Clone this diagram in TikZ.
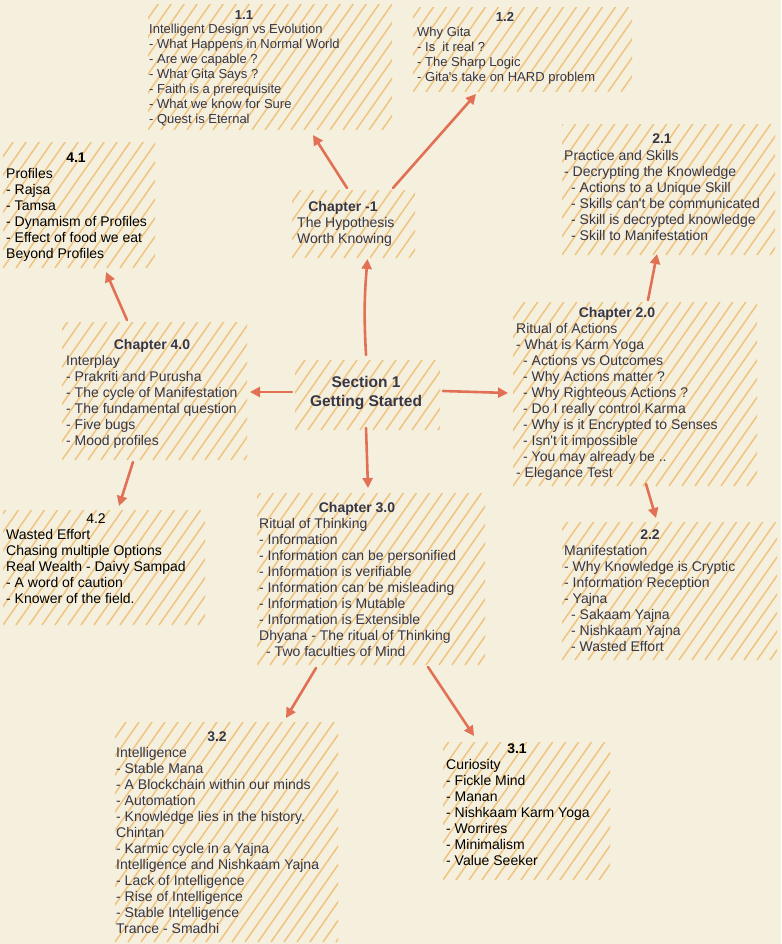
\documentclass[tikz,border=0pt]{standalone}
\usepackage{fontspec}
\setmainfont{Liberation Sans}
\usetikzlibrary{arrows.meta}
\definecolor{bgc}{RGB}{245,240,222}
\definecolor{hatchc}{RGB}{240,196,128}
\definecolor{arrowc}{RGB}{226,112,84}
\definecolor{txtc}{RGB}{54,54,70}
\newcommand\myind{\hspace*{7pt}}
\begin{document}
\begin{tikzpicture}[x=1pt,y=-1pt,
  hbox/.style={inner sep=0pt, outer sep=0pt, draw=none, rectangle,
    path picture={\foreach \i in {-14,...,20}{\draw[hatchc,line width=1.5pt] ([xshift=\i*13pt]path picture bounding box.south west) -- ++(175pt,250pt);}}},
  bodytxt/.style={anchor=north west, align=left, inner sep=0pt, text=txtc, font=\fontsize{14}{16}\selectfont},
  smalltxt/.style={anchor=north west, align=left, inner sep=0pt, text=txtc, font=\fontsize{13}{15}\selectfont},
  ttl/.style={anchor=base, inner sep=0pt, text=txtc, font=\bfseries\fontsize{14}{16}\selectfont},
  conn/.style={draw=arrowc, line width=2.6pt, line cap=round, -{Triangle[length=10pt,width=10pt]}}
]
\fill[bgc] (0,0) rectangle (781,944);
\useasboundingbox (0,0) rectangle (781,944);

% hatched boxes
\node[hbox, minimum width=244pt, minimum height=125pt] (b11) at (270,67.5) {};
\node[hbox, minimum width=219pt, minimum height=84pt] (b12) at (522.5,50) {};
\node[hbox, minimum width=152pt, minimum height=125pt] (b41) at (79,205.5) {};
\node[hbox, minimum width=213pt, minimum height=130pt] (b21) at (668.5,190) {};
\node[hbox, minimum width=123pt, minimum height=68pt] (bch1) at (353.5,224) {};
\node[hbox, minimum width=185pt, minimum height=138pt] (b40) at (154.5,391) {};
\node[hbox, minimum width=145pt, minimum height=70pt] (bs1) at (367.5,395) {};
\node[hbox, minimum width=244pt, minimum height=184pt] (b20) at (635,394) {};
\node[hbox, minimum width=202pt, minimum height=115pt] (b42) at (104,567.5) {};
\node[hbox, minimum width=228pt, minimum height=172pt] (b30) at (371,579) {};
\node[hbox, minimum width=215pt, minimum height=138pt] (b22) at (669.5,591) {};
\node[hbox, minimum width=223pt, minimum height=220pt] (b32) at (226.5,832) {};
\node[hbox, minimum width=167pt, minimum height=138pt] (b31) at (526.5,811) {};

% texts
\node[ttl, font=\bfseries\fontsize{13}{15}\selectfont] (t11) at (244,20) {1.1};
\node[smalltxt] (x11) at (149,24) {Intelligent Design vs Evolution\\- What Happens in Normal World\\- Are we capable ?\\- What Gita Says ?\\- Faith is a prerequisite\\- What we know for Sure\\- Quest is Eternal};

\node[ttl, font=\bfseries\fontsize{13}{15}\selectfont] (t12) at (505,22) {1.2};
\node[smalltxt] (x12) at (417,27) {Why Gita\\- Is\ \ it real ?\\- The Sharp Logic\\- Gita\textquotesingle s take on HARD problem};

\node[ttl, text=black] (t41) at (76,163) {4.1};
\node[bodytxt, text=black] (x41) at (6,167.8) {Profiles\\- Rajsa\\- Tamsa\\- Dynamism of Profiles\\- Effect of food we eat\\Beyond Profiles};

\node[ttl] (t21) at (662,144) {2.1};
\node[bodytxt] (x21) at (564,149.8) {Practice and Skills\\- Decrypting the Knowledge\\\myind- Actions to a Unique Skill\\\myind- Skills can\textquotesingle t be communicated\\\myind- Skill is decrypted knowledge\\\myind- Skill to Manifestation};

\node[ttl] (tch1) at (343,211) {Chapter -1};
\node[bodytxt] (xch1) at (297,216.8) {The Hypothesis\\Worth Knowing};

\node[ttl] (t40) at (152,349) {Chapter 4.0};
\node[bodytxt] (x40) at (66,354.8) {Interplay\\- Prakriti and Purusha\\- The cycle of Manifestation\\- The fundamental question\\- Five bugs\\- Mood profiles};

\node[anchor=north, align=center, inner sep=0pt, text=txtc, font=\bfseries\fontsize{15.5}{19}\selectfont] (ts1) at (366,376.3) {Section 1\\Getting Started};

\node[ttl] (t20) at (617,317) {Chapter 2.0};
\node[bodytxt] (x20) at (516,322.8) {Ritual of Actions\\- What is Karm Yoga\\\myind- Actions vs Outcomes\\\myind- Why Actions matter ?\\\myind- Why Righteous Actions ?\\\myind- Do I really control Karma\\\myind- Why is it Encrypted to Senses\\\myind- Isn\textquotesingle t it impossible\\\myind- You may already be ..\\- Elegance Test};

\node[ttl, text=black, font=\fontsize{14}{16}\selectfont] (t42) at (96,523) {4.2};
\node[bodytxt, text=black] (x42) at (6,528.8) {Wasted Effort\\Chasing multiple Options\\Real Wealth - Daivy Sampad\\- A word of caution\\- Knower of the field.};

\node[ttl] (t30) at (357,512) {Chapter 3.0};
\node[bodytxt] (x30) at (259,517.8) {Ritual of Thinking\\- Information\\- Information can be personified\\- Information is verifiable\\- Information can be misleading\\- Information is Mutable\\- Information is Extensible\\Dhyana - The ritual of Thinking\\\myind- Two faculties of Mind};

\node[ttl] (t22) at (650,539) {2.2};
\node[bodytxt] (x22) at (564,544.8) {Manifestation\\- Why Knowledge is Cryptic\\- Information Reception\\- Yajna\\\myind- Sakaam Yajna\\\myind- Nishkaam Yajna\\\myind- Wasted Effort};

\node[ttl] (t32) at (217,741) {3.2};
\node[bodytxt] (x32) at (116,746.8) {Intelligence\\- Stable Mana\\- A Blockchain within our minds\\- Automation\\- Knowledge lies in the history.\\Chintan\\- Karmic cycle in a Yajna\\Intelligence and Nishkaam Yajna\\- Lack of Intelligence\\- Rise of Intelligence\\- Stable Intelligence\\Trance - Smadhi};

\node[ttl, text=black] (t31) at (517,753) {3.1};
\node[bodytxt, text=black] (x31) at (446,758.8) {Curiosity\\- Fickle Mind\\- Manan\\- Nishkaam Karm Yoga\\- Worrires\\- Minimalism\\- Value Seeker};

% connectors
\draw[conn] ([shift={(-1.5,-5)}]bs1.north) to[bend left=4] ([shift={(14,1)}]bch1.south);
\draw[conn] ([shift={(-6.5,-2)}]bch1.north) -- ([shift={(43,5)}]b11.south);
\draw[conn] ([shift={(39.5,-2)}]bch1.north) -- ([shift={(-46.5,2)}]b12.south);
\draw[conn] ([shift={(-3,-3)}]bs1.west) -- ([shift={(3,1)}]b40.east);
\draw[conn] ([shift={(3,-4)}]bs1.east) -- ([shift={(-5,-1)}]b20.west);
\draw[conn] ([shift={(-1.5,-2)}]bs1.south) -- ([shift={(-3,-5)}]b30.north);
\draw[conn] ([shift={(-27.5,-2)}]b40.north) -- ([shift={(27,4)}]b41.south);
\draw[conn] ([shift={(-21.5,2)}]b40.south) -- ([shift={(15,-4)}]b42.north);
\draw[conn] ([shift={(13,-2)}]b20.north) -- ([shift={(-11.5,-1)}]b21.south);
\draw[conn] ([shift={(11,-2)}]b20.south) -- ([shift={(-13.5,-4)}]b22.north);
\draw[conn] ([shift={(-55,3)}]b30.south) -- ([shift={(59.5,-4)}]b32.north);
\draw[conn] ([shift={(57,2)}]b30.south) -- ([shift={(-52.5,-6)}]b31.north);
\end{tikzpicture}
\end{document}
